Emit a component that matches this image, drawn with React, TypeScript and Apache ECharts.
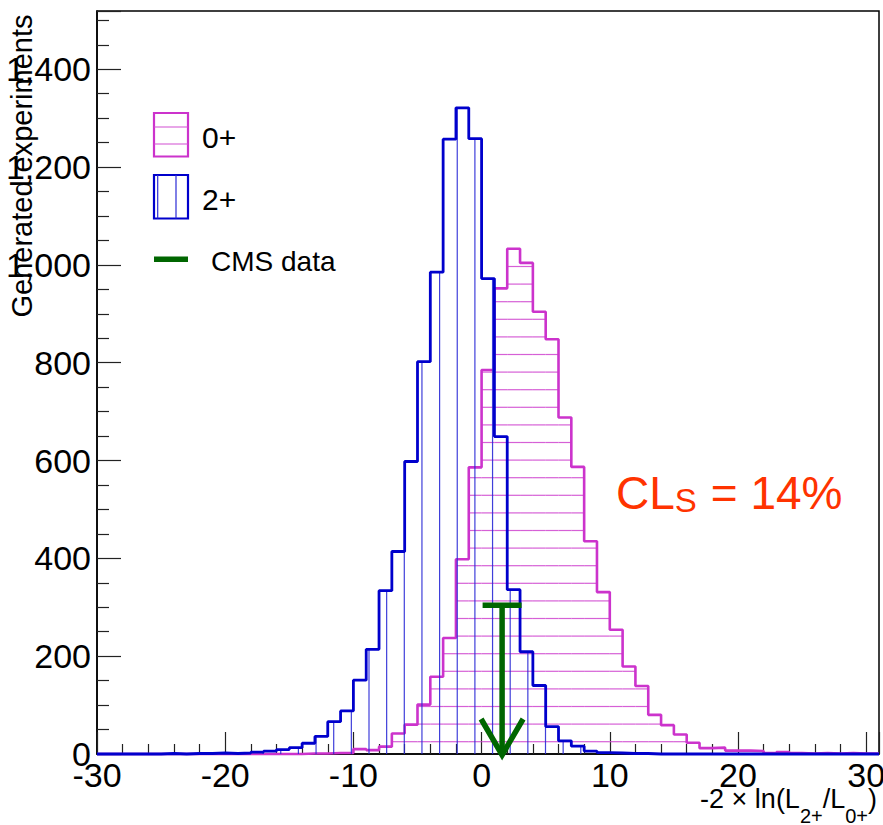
import React, { useEffect, useRef } from "react";
import * as echarts from "echarts";

// ---------- data ----------
const BIN_START = -30;
const BIN_WIDTH = 1;
// counts per bin, first bin = [-30,-29]
const spin0Counts: number[] = [
  0, 0, 0, 0, 0, 0, 0, 0, 0, 0,
  0, 0, 0, 0, 0, 0, 1, 1, 2, 2,
  10, 8, 15, 42, 60, 101, 158, 237, 398, 586,
  785, 952, 1033, 1004, 904, 848, 688, 587, 435, 331,
  254, 179, 139, 80, 59, 40, 23, 12, 13, 7,
  7, 6, 2, 4, 2, 1, 2, 1, 2, 1,
  1,
];
const spin2Counts: number[] = [
  0, 0, 0, 0, 0, 1, 0, 1, 1, 2,
  1, 2, 4, 6, 9, 13, 22, 36, 66, 88,
  151, 214, 334, 414, 598, 802, 985, 1257, 1321, 1258,
  972, 649, 336, 209, 140, 56, 27, 16, 6, 3,
  2, 1, 1, 0, 0, 0, 0, 0, 0, 0,
  0, 0, 0, 0, 0, 0, 0, 0, 0, 0,
  0,
];
const cmsValue = 1.6;
const cmsMarkerHeight = 304;
const xMin = -30;
const xMax = 31;
const xInterval = 10;
const yMin = 0;
const yMax = 1519;
const yInterval = 200;
const legendLabels = ["0+", "2+", "CMS data"];
const yTitle = "Generated experiments";
const xTitleParts = [
  { text: "-2 × ln(L", sub: false },
  { text: "2+", sub: true },
  { text: "/L", sub: false },
  { text: "0+", sub: true },
  { text: ")", sub: false },
];
const clsParts = ["CL", "S", "= 14%"];

// ---------- styles ----------
const FONT = '"Liberation Sans", Arial, Helvetica, sans-serif';
const PINK = "#cc33cc";
const PINK_HATCH = "#d24fd2";
const BLUE = "#0000cc";
const BLUE_HATCH = "#2a2ad6";
const GREEN = "#006600";
const RED = "#ff3300";

function binData(counts: number[]) {
  return counts.map((v, i) => [BIN_START + i * BIN_WIDTH, BIN_START + (i + 1) * BIN_WIDTH, v]);
}
function stepPoints(counts: number[]) {
  const pts: number[][] = [];
  counts.forEach((v, i) => {
    const a = BIN_START + i * BIN_WIDTH;
    pts.push([a, v], [a + BIN_WIDTH, v]);
  });
  pts.unshift([BIN_START, 0]);
  pts.push([BIN_START + counts.length * BIN_WIDTH, 0]);
  return pts;
}

function hatchRenderer(orientation: "h" | "v", color: string) {
  const spacing = orientation === "h" ? 17.6 : 17.65;
  const phase = orientation === "h" ? 2.5 : 16;
  return (params: any, api: any) => {
    const x0 = api.value(0);
    const x1 = api.value(1);
    const v = api.value(2);
    const children: any[] = [];
    if (v > 0) {
      const pA = api.coord([x0, 0]);
      const pB = api.coord([x1, v]);
      const style = { stroke: color, lineWidth: 1.2, opacity: 0.9 };
      if (orientation === "h") {
        for (let y = phase; y < pA[1] - 0.5; y += spacing) {
          if (y > pB[1] + 0.5) {
            children.push({ type: "line", shape: { x1: pA[0], y1: y, x2: pB[0], y2: y }, style });
          }
        }
      } else {
        for (let x = phase; x < pB[0]; x += spacing) {
          if (x >= pA[0] + 0.5) {
            children.push({ type: "line", shape: { x1: x, y1: pB[1], x2: x, y2: pA[1] }, style });
          }
        }
      }
    }
    return { type: "group", children };
  };
}

export default function App() {
  const ref = useRef<HTMLDivElement>(null);
  useEffect(() => {
    if (!ref.current) return;
    const chart = echarts.init(ref.current, undefined, { renderer: "svg" });

    const ctx = document.createElement("canvas").getContext("2d")!;
    const measure = (t: string, s: number) => {
      ctx.font = `${s}px ${FONT}`;
      return ctx.measureText(t).width;
    };
    // x title layout (right aligned)
    const mainSize = 27;
    const subSize = 20;
    const widths = xTitleParts.map((p) => measure(p.text, p.sub ? subSize : mainSize));
    const total = widths.reduce((a, b) => a + b, 0);
    let cx = 877 - total;
    const xTitleEls: any[] = xTitleParts.map((p, i) => {
      const el = {
        type: "text",
        x: cx,
        y: p.sub ? 816 : 799,
        style: {
          text: p.text,
          fontSize: p.sub ? subSize : mainSize,
          fontFamily: FONT,
          fill: "#000",
          align: "left",
          verticalAlign: "middle",
        },
      };
      cx += widths[i];
      return el;
    });

    const clW0 = measure(clsParts[0], 46);
    const clW1 = measure(clsParts[1], 33);
    const clsEls: any[] = [
      { type: "text", x: 616, y: 493, style: { text: clsParts[0], fontSize: 46, fontFamily: FONT, fill: RED, align: "left", verticalAlign: "middle" } },
      { type: "text", x: 616 + clW0, y: 500, style: { text: clsParts[1], fontSize: 33, fontFamily: FONT, fill: RED, align: "left", verticalAlign: "middle" } },
      { type: "text", x: 616 + clW0 + clW1 + 14, y: 493, style: { text: clsParts[2], fontSize: 46, fontFamily: FONT, fill: RED, align: "left", verticalAlign: "middle" } },
    ];

    const legendEls: any[] = [
      { type: "rect", shape: { x: 154, y: 113, width: 34, height: 43.5 }, style: { fill: "none", stroke: PINK, lineWidth: 2.2 } },
      { type: "line", shape: { x1: 154, y1: 127, x2: 188, y2: 127 }, style: { stroke: PINK_HATCH, lineWidth: 1.2 } },
      { type: "line", shape: { x1: 154, y1: 144, x2: 188, y2: 144 }, style: { stroke: PINK_HATCH, lineWidth: 1.2 } },
      { type: "rect", shape: { x: 154, y: 175, width: 34, height: 43.5 }, style: { fill: "none", stroke: BLUE, lineWidth: 2.2 } },
      { type: "line", shape: { x1: 157.7, y1: 175, x2: 157.7, y2: 218.5 }, style: { stroke: BLUE_HATCH, lineWidth: 1.2 } },
      { type: "line", shape: { x1: 176, y1: 175, x2: 176, y2: 218.5 }, style: { stroke: BLUE_HATCH, lineWidth: 1.2 } },
      { type: "line", shape: { x1: 154, y1: 259.3, x2: 188, y2: 259.3 }, style: { stroke: GREEN, lineWidth: 5.5 } },
      { type: "text", x: 202, y: 137, style: { text: legendLabels[0], fontSize: 30, fontFamily: FONT, fill: "#000", align: "left", verticalAlign: "middle" } },
      { type: "text", x: 202, y: 199, style: { text: legendLabels[1], fontSize: 30, fontFamily: FONT, fill: "#000", align: "left", verticalAlign: "middle" } },
      { type: "text", x: 211, y: 261, style: { text: legendLabels[2], fontSize: 28, fontFamily: FONT, fill: "#000", align: "left", verticalAlign: "middle" } },
    ];

    const yTitleEl = {
      type: "text",
      x: 22,
      y: 166,
      rotation: Math.PI / 2,
      style: { text: yTitle, fontSize: 29, fontFamily: FONT, fill: "#000", align: "center", verticalAlign: "middle" },
    };

    const axisCommon = {
      axisLine: { show: true, onZero: false, lineStyle: { color: "#000", width: 1.5 } },
      splitLine: { show: false },
      axisLabel: {
        show: true,
        color: "#000",
        fontSize: 34,
        fontFamily: FONT,
        showMaxLabel: false,
      },
    };

    chart.setOption({
      animation: false,
      backgroundColor: "#fff",
      grid: {
        left: 97,
        right: 4,
        top: 11,
        bottom: 71,
        show: true,
        borderColor: "#000",
        borderWidth: 1.5,
        backgroundColor: "transparent",
        containLabel: false,
        outerBoundsMode: "none",
      },
      xAxis: {
        type: "value",
        min: xMin,
        max: xMax,
        interval: xInterval,
        ...axisCommon,
        axisLabel: { ...axisCommon.axisLabel, margin: 4 },
        axisTick: { show: true, inside: true, length: 22, lineStyle: { color: "#222", width: 1.2 } },
        minorTick: { show: true, splitNumber: 5, length: 10, lineStyle: { color: "#222", width: 1.2 } },
      },
      yAxis: {
        type: "value",
        min: yMin,
        max: yMax,
        interval: yInterval,
        ...axisCommon,
        axisLabel: { ...axisCommon.axisLabel, margin: 6 },
        axisTick: { show: true, inside: true, length: 24, lineStyle: { color: "#222", width: 1.2 } },
        minorTick: { show: true, splitNumber: 4, length: 12, lineStyle: { color: "#222", width: 1.2 } },
      },
      series: [
        {
          type: "custom",
          name: "0+ hatch",
          data: binData(spin0Counts),
          encode: { x: [0, 1], y: 2 },
          renderItem: hatchRenderer("h", PINK_HATCH),
          z: 2,
          clip: true,
        },
        {
          type: "line",
          name: "0+",
          data: stepPoints(spin0Counts),
          symbol: "none",
          showSymbol: false,
          clip: false,
          lineStyle: { color: PINK, width: 2.6 },
          z: 3,
        },
        {
          type: "custom",
          name: "2+ hatch",
          data: binData(spin2Counts),
          encode: { x: [0, 1], y: 2 },
          renderItem: hatchRenderer("v", BLUE_HATCH),
          z: 4,
          clip: true,
        },
        {
          type: "line",
          name: "2+",
          data: stepPoints(spin2Counts),
          symbol: "none",
          showSymbol: false,
          clip: false,
          lineStyle: { color: BLUE, width: 2.8 },
          z: 5,
        },
        {
          type: "custom",
          name: "CMS data",
          data: [[cmsValue, cmsMarkerHeight]],
          encode: { x: 0, y: 1 },
          clip: false,
          z: 6,
          renderItem: (params: any, api: any) => {
            const top = api.coord([api.value(0), api.value(1)]);
            const base = api.coord([api.value(0), 0]);
            const st = { stroke: GREEN, lineWidth: 5.5, fill: "none" };
            return {
              type: "group",
              children: [
                { type: "line", shape: { x1: top[0] - 19.5, y1: top[1], x2: top[0] + 19.5, y2: top[1] }, style: st },
                { type: "line", shape: { x1: top[0], y1: top[1], x2: top[0], y2: base[1] }, style: st },
                {
                  type: "polyline",
                  shape: { points: [[base[0] - 21, base[1] - 35], [base[0], base[1] + 1], [base[0] + 21, base[1] - 35]] },
                  style: { ...st, lineJoin: "miter" },
                },
              ],
            };
          },
        },
      ],
      graphic: [yTitleEl, ...legendEls, ...clsEls, ...xTitleEls],
    });
    return () => chart.dispose();
  }, []);
  return (
    <div
      ref={ref}
      style={{ position: "fixed", left: 0, top: 0, width: 883, height: 825, background: "#fff" }}
    />
  );
}
